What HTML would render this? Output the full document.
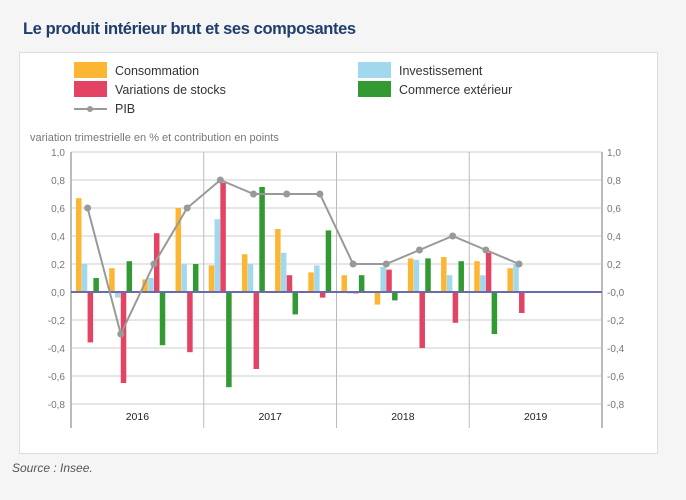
<!DOCTYPE html>
<html><head><meta charset="utf-8"><style>
body{margin:0;background:#f5f5f5;font-family:"Liberation Sans",sans-serif;}
#wrap{position:relative;width:686px;height:500px;overflow:hidden;}
</style></head><body>
<div id="wrap">
<div style="position:absolute;left:23px;top:20px;font-size:16.5px;font-weight:bold;color:#1e3e6c;letter-spacing:-0.4px">Le produit intérieur brut et ses composantes</div>
<div style="position:absolute;left:19px;top:52px;width:637px;height:400px;background:#fff;border:1px solid #ddd"></div>
<div style="position:absolute;left:12px;top:461px;font-size:12px;font-style:italic;color:#555">Source : Insee.</div>
<svg id="chart" width="686" height="500" style="position:absolute;left:0;top:0"></svg>
</div>
<script>
const quarters=["2016T1","2016T2","2016T3","2016T4","2017T1","2017T2","2017T3","2017T4","2018T1","2018T2","2018T3","2018T4","2019T1","2019T2","2019T3","2019T4"];
const years=["2016","2017","2018","2019"];
const conso=[0.67,0.17,0.09,0.60,0.19,0.27,0.45,0.14,0.12,-0.09,0.24,0.25,0.22,0.17];
const invest=[0.20,-0.04,0.10,0.20,0.52,0.20,0.28,0.19,-0.01,0.18,0.23,0.12,0.12,0.20];
const stocks=[-0.36,-0.65,0.42,-0.43,0.78,-0.55,0.12,-0.04,-0.01,0.16,-0.40,-0.22,0.28,-0.15];
const commerce=[0.10,0.22,-0.38,0.20,-0.68,0.75,-0.16,0.44,0.12,-0.06,0.24,0.22,-0.30,0.00];
const pib=[0.6,-0.3,0.2,0.6,0.8,0.7,0.7,0.7,0.2,0.2,0.3,0.4,0.3,0.2];
const yTicks=[1.0,0.8,0.6,0.4,0.2,0.0,-0.2,-0.4,-0.6,-0.8];
const yTickLabels=["1,0","0,8","0,6","0,4","0,2","0,0","-0,2","-0,4","-0,6","-0,8"];
const yTickLabelsR=["1,0","0,8","0,6","0,4","0,2","-0,0","-0,2","-0,4","-0,6","-0,8"];

const svg=document.getElementById('chart');
const NS="http://www.w3.org/2000/svg";
const X0=71,X1=602,Y0=292,K=140;
const qw=(X1-X0)/quarters.length;
function y(v){return Y0-v*K;}
function xc(i){return X0+qw*(i+0.5);}
function mk(t,a,name,txt){const e=document.createElementNS(NS,t);for(const k in a)e.setAttribute(k,a[k]);


if(txt!==undefined)e.textContent=txt;svg.appendChild(e);return e;}

const leg=[["#fdb633","Consommation",74,62],["#a2d8ee","Investissement",358,62],["#e34464","Variations de stocks",74,81],["#339933","Commerce extérieur",358,81]];
leg.forEach(l=>{mk('rect',{x:l[2],y:l[3],width:33,height:16,fill:l[0]},'legend-swatch');
mk('text',{x:l[2]+41,y:l[3]+13,'font-size':12.5,fill:'#333'},'legend-entry',l[1]);});
mk('line',{x1:74,y1:109,x2:107,y2:109,stroke:'#999','stroke-width':2},'legend-pib-line');
mk('circle',{cx:90,cy:109,r:3,fill:'#999'},'legend-pib-marker');
mk('text',{x:115,y:113,'font-size':12.5,fill:'#333'},'legend-entry','PIB');
mk('text',{x:30,y:141,'font-size':11,fill:'#777'},'y-axis-title','variation trimestrielle en % et contribution en points');

yTicks.forEach((v,i)=>{
 mk('line',{x1:X0,x2:X1,y1:y(v),y2:y(v),stroke:'#ddd','stroke-width':1.5},'gridline');
 mk('text',{x:65,y:y(v)+4,'font-size':10,fill:'#777','text-anchor':'end'},'y-tick-label',yTickLabels[i]);
 mk('text',{x:607,y:y(v)+4,'font-size':10,fill:'#777'},'y-tick-label-right',yTickLabelsR[i]);
});
years.forEach((yr,i)=>{
 const xs=X0+qw*4*i;
 if(i>0)mk('line',{x1:xs,x2:xs,y1:y(1),y2:y(-0.8)+24,stroke:'#bbb'},'year-separator');
 mk('text',{x:xs+qw*2,y:420,'font-size':10.5,fill:'#222','text-anchor':'middle'},'x-year-label',yr);
});
mk('line',{x1:X0,x2:X0,y1:y(1),y2:y(-0.8)+24,stroke:'#bbb','stroke-width':2},'left-axis');
mk('line',{x1:X1,x2:X1,y1:y(1),y2:y(-0.8)+24,stroke:'#bbb','stroke-width':2},'right-axis');

const series=[[conso,'#fdb633','bar-consommation'],[invest,'#a2d8ee','bar-investissement'],[stocks,'#e34464','bar-stocks'],[commerce,'#339933','bar-commerce']];
const bw=5.8;
series.forEach((s,j)=>{s[0].forEach((v,i)=>{
 const x=xc(i)-2*bw+j*bw;
 mk('rect',{x:x,y:Math.min(y(v),Y0),width:bw-0.3,height:Math.abs(v*K),fill:s[1]},s[2]);
});});
mk('line',{x1:X0,x2:X1,y1:Y0,y2:Y0,stroke:'#6b6ba8','stroke-width':2},'zero-line');
mk('polyline',{points:pib.map((v,i)=>xc(i)+','+y(v)).join(' '),fill:'none',stroke:'#999','stroke-width':2},'pib-line');
pib.forEach((v,i)=>mk('circle',{cx:xc(i),cy:y(v),r:3.5,fill:'#999'},'pib-point'));
</script>
</body></html>
